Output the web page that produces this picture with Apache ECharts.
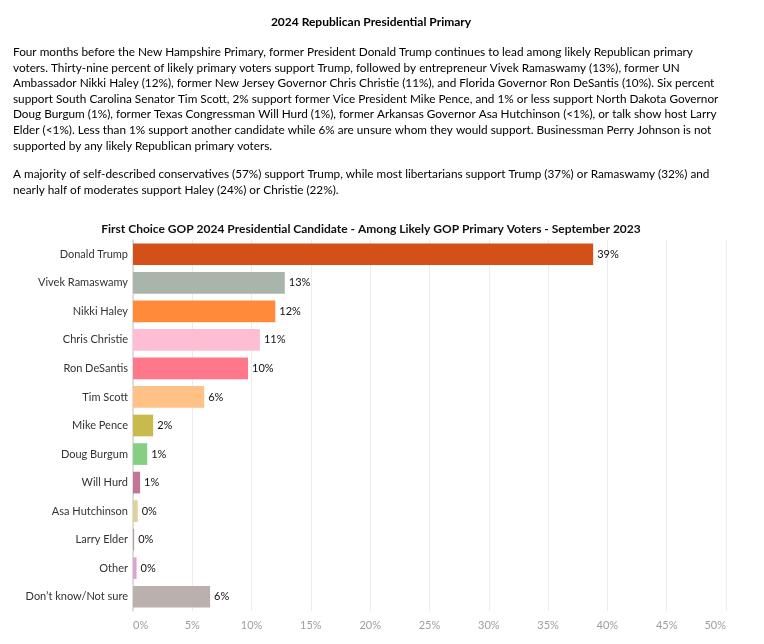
<!DOCTYPE html>
<html>
<head>
<meta charset="utf-8">
<script src="https://cdn.jsdelivr.net/npm/echarts@6/dist/echarts.min.js"></script>
<style>
  html, body { margin: 0; padding: 0; background: #fff; }
  #chart { width: 764px; height: 644px; }
</style>
</head>
<body>
<div id="chart"></div>
<script>
const pageTitle = "2024 Republican Presidential Primary";
const paragraph1 = [
  "Four months before the New Hampshire Primary, former President Donald Trump continues to lead among likely Republican primary",
  "voters. Thirty-nine percent of likely primary voters support Trump, followed by entrepreneur Vivek Ramaswamy (13%), former UN",
  "Ambassador Nikki Haley (12%), former New Jersey Governor Chris Christie (11%), and Florida Governor Ron DeSantis (10%). Six percent",
  "support South Carolina Senator Tim Scott, 2% support former Vice President Mike Pence, and 1% or less support North Dakota Governor",
  "Doug Burgum (1%), former Texas Congressman Will Hurd (1%), former Arkansas Governor Asa Hutchinson (<1%), or talk show host Larry",
  "Elder (<1%). Less than 1% support another candidate while 6% are unsure whom they would support. Businessman Perry Johnson is not",
  "supported by any likely Republican primary voters."
];
const paragraph2 = [
  "A majority of self-described conservatives (57%) support Trump, while most libertarians support Trump (37%) or Ramaswamy (32%) and",
  "nearly half of moderates support Haley (24%) or Christie (22%)."
];
const chartTitle = "First Choice GOP 2024 Presidential Candidate - Among Likely GOP Primary Voters - September 2023";

const categories = ["Donald Trump", "Vivek Ramaswamy", "Nikki Haley", "Chris Christie", "Ron DeSantis", "Tim Scott",
  "Mike Pence", "Doug Burgum", "Will Hurd", "Asa Hutchinson", "Larry Elder", "Other", "Don\u2019t know/Not sure"];
const values = [38.8, 12.8, 12.0, 10.7, 9.7, 6.0, 1.7, 1.2, 0.6, 0.4, 0.1, 0.3, 6.5];
const valueLabels = ["39%", "13%", "12%", "11%", "10%", "6%", "2%", "1%", "1%", "0%", "0%", "0%", "6%"];
const barColors = ["#D35019", "#A9B5AB", "#FF8B3A", "#FFBDD3", "#FF778B", "#FFC185", "#C8BA4C", "#84CF82",
  "#C47595", "#DFD19D", "#B8A29E", "#DCA3CE", "#BAB0AC"];

const bodyFont = "Lato";
function measure(text, font) {
  const c = document.createElement("canvas").getContext("2d");
  c.font = font;
  return c.measureText(text).width;
}
const refLine = paragraph1[3];
const paraSize = Math.max(10, Math.min(14, 706 / measure(refLine, "100px " + bodyFont) * 100));

const graphics = [];
graphics.push({
  type: "text", x: 371, y: 22,
  style: { text: pageTitle, font: "bold 12px " + bodyFont, fill: "#000", align: "center", verticalAlign: "middle" }
});
const p1Y = [52, 67.7, 83.4, 99, 114.6, 130.2, 146];
paragraph1.forEach((t, i) => {
  graphics.push({ type: "text", x: 13, y: p1Y[i], style: { text: t, fontFamily: bodyFont, fontSize: paraSize, fill: "#000", verticalAlign: "middle" } });
});
const p2Y = [174, 190];
paragraph2.forEach((t, i) => {
  graphics.push({ type: "text", x: 13, y: p2Y[i], style: { text: t, fontFamily: bodyFont, fontSize: paraSize, fill: "#000", verticalAlign: "middle" } });
});

const chart = echarts.init(document.getElementById("chart"), null, { renderer: "canvas" });
chart.setOption({
  animation: false,
  backgroundColor: "#ffffff",
  graphic: graphics,
  title: {
    text: chartTitle, left: 366, top: 218, textAlign: "center",
    textStyle: { fontFamily: bodyFont, fontWeight: "bold", fontSize: 12, color: "#111" }
  },
  grid: { left: 133, right: 38, top: 240, bottom: 33, containLabel: false },
  xAxis: {
    type: "value", min: 0, max: 50, interval: 5,
    axisLine: { show: false },
    axisTick: { show: false },
    splitLine: { show: true, lineStyle: { color: "#ececec", width: 1 } },
    axisLabel: {
      formatter: v => v + "%", color: "#9a9ea6", fontFamily: bodyFont, fontSize: 11, margin: 9,
      alignMinLabel: "left", alignMaxLabel: "right"
    }
  },
  yAxis: {
    type: "category", data: categories, inverse: true,
    axisLine: { show: true, lineStyle: { color: "#d6d6d6", width: 1.5 } },
    axisTick: { show: false },
    axisLabel: { color: "#333", fontFamily: bodyFont, fontSize: 11, margin: 5 }
  },
  series: [{
    type: "bar",
    data: values.map((v, i) => ({ value: v, itemStyle: { color: barColors[i] } })),
    barWidth: "76%",
    label: {
      show: true, position: "right", distance: 4,
      formatter: p => valueLabels[p.dataIndex],
      color: "#111", fontFamily: bodyFont, fontSize: 11
    }
  }]
});
</script>
</body>
</html>
